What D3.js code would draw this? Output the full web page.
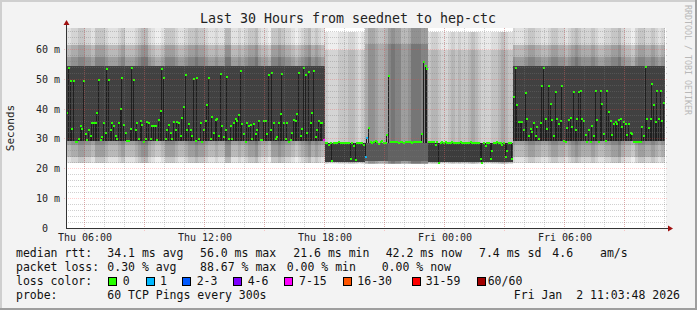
<!DOCTYPE html>
<html>
<head>
<meta charset="utf-8">
<script src="https://cdn.jsdelivr.net/npm/d3@7"></script>
<style>
    body { margin: 0; background: #f3f3f3; }
    svg { display: block; }
    text { font-family: "DejaVu Sans Mono", monospace; white-space: pre; }
</style>
</head>
<body>
<div id="chart"></div>
<script>
const WIDTH = 697, HEIGHT = 310;
const PLOT = {left: 66, right: 666, top: 28, bottom: 228};

// ---------------------------------- data ------------------------------------
const START = new Date(2026, 0, 1, 5, 3, 48);
const END = new Date(2026, 0, 2, 11, 3, 48);
const FIRST_STEP = new Date(2026, 0, 1, 5, 0, 0);
const STEP_MINUTES = 5;
const Y_MAX = 67.34;

// median rtt (ms), one value per 5 minute step, Thu 05:00 -> Fri 11:00
const medianMs = [
    33, 38.6, 53.8, 49.5, 33.5, 49.5, 29, 29, 30, 34.5,
    33.3, 49.5, 31.5, 29.5, 33, 31, 35.3, 35.3, 35.3, 38.6,
    49.8, 29.5, 30.5, 35.3, 32, 53.6, 49.8, 33, 35.3, 34.5,
    31, 30, 35.3, 40, 50.6, 34.7, 32, 29.3, 29.3, 33.3,
    53.8, 49.8, 33, 35.2, 30, 36, 34.7, 29, 30, 35.7,
    35.2, 30, 34.5, 34.5, 34.5, 29.5, 36.4, 39.3, 53.6, 50.4,
    30, 33, 34.7, 32, 30, 35.7, 33, 35.7, 35.3, 31,
    37, 40.7, 51.6, 32.9, 35, 33, 31, 50.2, 29.3, 50.4,
    30, 35.3, 29, 33, 36, 41.3, 50.4, 30, 37.4, 32,
    36.4, 36.7, 31, 51.8, 34.3, 30.5, 32.9, 51, 30, 34.3,
    30, 35.3, 36.7, 36, 38, 52.8, 35, 31.5, 29, 35.2,
    34.5, 34.7, 29.8, 35, 31.8, 33, 36, 29.5, 29.5, 36,
    36, 31.8, 51.6, 32.9, 52.2, 35.2, 29.8, 30.5, 35.3, 38.3,
    51.8, 35.3, 30, 35.2, 29, 29.5, 32, 36.4, 36, 38.5,
    52.2, 31, 33.5, 54, 51.6, 32, 52.4, 35.3, 38.8, 52.9,
    30.5, 33, 36, 35.5, 35.2, 29.6, 28.7, 28.7, 27.8, 28.7,
    22.6, 28.7, 28.6, 28.7, 28.8, 28.7, 28.7, 28.6, 28.7, 28.7,
    28.7, 23.3, 28.7, 27.7, 23.0, 28.7, 28.7, 28.6, 28.7, 27.8,
    24.0, 30.4, 33.6, 29.0, 28.6, 28.8, 29.2, 29.0, 28.4, 29.0,
    29.3, 28.7, 28.7, 31.3, 51.3, 28.9, 28.9, 29.0, 28.8, 28.9,
    28.7, 28.9, 28.8, 28.5, 28.9, 28.8, 28.9, 28.9, 28.7, 28.9,
    28.9, 29.0, 28.9, 29.1, 31.8, 56.0, 54.6, 53.4, 28.8, 28.8,
    28.9, 28.8, 27.8, 28.8, 22.0, 28.7, 28.8, 28.7, 28.8, 28.7,
    28.7, 28.7, 28.8, 28.7, 28.6, 28.7, 28.7, 28.8, 28.7, 28.7,
    28.6, 28.7, 28.7, 28.8, 28.7, 28.7, 28.6, 28.7, 28.7, 23.4,
    22.0, 28.7, 27.7, 28.7, 28.7, 23.4, 25.9, 28.7, 28.7, 28.8,
    28.7, 28.7, 27.8, 28.7, 24.0, 25.9, 28.7, 28.6, 23.4, 44.2,
    53.8, 41.5, 35.7, 35.7, 35.7, 33, 45.6, 36.8, 31, 33.5,
    32.4, 35.3, 31, 34, 30, 35.3, 47.9, 53.8, 36.8, 33.2,
    47.9, 41.6, 36.2, 31, 45.8, 36.6, 35, 36, 47.9, 29.3,
    28.8, 33.7, 36.4, 36.9, 34, 45.8, 32.9, 36.8, 45.8, 46.1,
    36.6, 36, 31.3, 29.1, 33, 28.8, 34.3, 31, 46.1, 36.4,
    29.1, 46.1, 41.8, 31.5, 29.3, 46.1, 39.1, 36, 31.3, 35,
    35.7, 35, 36.4, 36.7, 34, 35.7, 35, 31.3, 35, 32,
    31.5, 28.8, 29, 29, 29, 29, 34, 31, 54.2, 36.8,
    33.7, 36.6, 48.5, 41.5, 35.7, 46, 36.8, 46, 36, 42.2
];

// steps with packet loss (step index, lost pings of 60)
const lossStep = [155, 180, 181];
const lossCount = [9, 1, 1];

const lossLabels = ["0", "1", "2-3", "4-6", "7-15", "16-30", "31-59", "60/60"];
const lossLimits = [0, 1, 3, 6, 15, 30, 59, 60];
const lossColors = ["#26ff00", "#00b8ff", "#0059ff", "#7e00ff", "#ff00ff", "#ff5500", "#ff0000", "#a10000"];

// smoke: ping spread per period (first step, pivot ms, bands [low ms, high ms, density])
const regimeFirst = [0, 156, 180, 194, 218, 269];
const regimePivot = [29.3, 28.7, 28.7, 28.7, 28.7, 29.3];
const regimeBands = [
    [[21.8, 70, 0.15], [24, 61.6, 0.36], [28, 57.7, 0.5], [29.3, 54.6, 0.92]],
    [[21.5, 66, 0.08], [21.8, 60, 0.22], [22.2, 28.7, 0.95]],
    [[21.5, 70, 0.24], [22, 62, 0.36], [22.5, 28.7, 0.8]],
    [[21.5, 70, 0.36], [22, 62, 0.5], [22.5, 28.7, 0.75]],
    [[21.5, 66, 0.1], [21.8, 60, 0.24], [22.2, 28.7, 0.95]],
    [[21.8, 70, 0.15], [24, 61.6, 0.36], [28, 57.7, 0.5], [29.3, 54.6, 0.92]]
];

// relative darkness of the outer smoke, one value per 10 minutes
const smokeShade = [
    -1, -1, 0, 0, 1, 1, 0, 0, -1, 1,
    1, 1, 0, -1, -1, -1, 0, 1, -1, -1,
    -1, 0, 1, 2, 2, 0, -1, -2, -2, -1,
    1, 1, 1, 0, -1, -1, 0, 1, 1, 2,
    1, 1, 0, -1, -1, 0, -1, -1, 2, 2,
    -1, -1, 0, -1, 0, 1, 1, 2, 0, -1,
    -1, -2, 1, 1, 2, 1, 0, 0, -1, -2,
    -1, 0, 1, 2, 0, 1, 0, -1, 0, -1,
    -1, -1, 0, 0, 0, 1, 1, 0, -1, 0,
    0, 2, 2, 1, 0, 0, 1, 1, 2, 1,
    1, -1, -1, 0, 2, 2, 2, 1, 1, 0,
    1, 1, 0, -1, -1, 0, 1, 0, 1, 0,
    0, 1, 2, 1, 0, -1, -1, -1, 0, 0,
    1, 2, 1, 0, 0, -1, -1, -1, 0, 1,
    1, 0, 0, -1, -1, 0, 1, 1, 0, 0,
    -1, 0, 1, 2, 1, 0, 0, 0, 1, 0,
    -1, -1, 0, 0, 1, 1, 2, 0, -1, -1,
    -2, 0, 1, 1, 0, 0, 1, 0, -1, 0
];

const rttStats = ["34.1 ms avg", "56.0 ms max", "21.6 ms min", "42.2 ms now", "7.4 ms sd", "4.6", "am/s"];
const lossStats = ["0.30 % avg", "88.67 % max", "0.00 % min", "0.00 % now"];
const titleText = "Last 30 Hours from seednet to hep-ctc";
const probeText = "60 TCP Pings every 300s";
const stampText = "Fri Jan  2 11:03:48 2026";

// ---------------------------------- helpers ------------------------------------
const stepTime = (i) => new Date(FIRST_STEP.getTime() + i * STEP_MINUTES * 60000);
const x = d3.scaleTime().domain([START, END]).range([PLOT.left, PLOT.right]);
const y = d3.scaleLinear().domain([0, Y_MAX]).range([PLOT.bottom, PLOT.top]);
const px = (v) => Math.floor(v) + 0.5;
const grayLevel = d3.scaleLinear().domain([0, 1]).range([240, 50]);
const gray = (d) => {
    const g = Math.round(Math.max(0, Math.min(255, grayLevel(d))));
    return `rgb(${g},${g},${g})`;
};
const lossColor = (count) => lossColors[lossLimits.findIndex(l => count <= l)];
const regimeOf = (i) => d3.bisectRight(regimeFirst, i) - 1;
const stepX0 = (i) => Math.round(x(stepTime(i)));
const stepX1 = (i) => Math.round(x(stepTime(i + 1)));

const svg = d3.select("#chart")
    .append("svg")
    .attr("width", WIDTH)
    .attr("height", HEIGHT);

// frame
svg.append("rect").attr("width", WIDTH).attr("height", HEIGHT).attr("fill", "#f3f3f3");
svg.append("path").attr("d", `M0,${HEIGHT}V0H${WIDTH}`).attr("fill", "none")
    .attr("stroke", "#cfcfcf").attr("stroke-width", 4);
svg.append("path").attr("d", `M${WIDTH},0V${HEIGHT}H0`).attr("fill", "none")
    .attr("stroke", "#9e9e9e").attr("stroke-width", 4);

// plot canvas
svg.append("rect")
    .attr("x", PLOT.left).attr("y", PLOT.top)
    .attr("width", PLOT.right - PLOT.left).attr("height", PLOT.bottom - PLOT.top)
    .attr("fill", "#ffffff");

svg.append("clipPath").attr("id", "plot-clip")
    .append("rect")
    .attr("x", PLOT.left).attr("y", PLOT.top)
    .attr("width", PLOT.right - PLOT.left).attr("height", PLOT.bottom - PLOT.top);

const plot = svg.append("g").attr("clip-path", "url(#plot-clip)").attr("shape-rendering", "crispEdges");

// ---------------------------------- smoke ------------------------------------
const smokeRects = [];
medianMs.forEach((_, i) => {
    const bands = regimeBands[regimeOf(i)];
    const shade = smokeShade[Math.floor(i / 2)];
    bands.forEach(([lo, hi, density], b) => {
        const inner = b === bands.length - 1;
        smokeRects.push({i, lo, hi, density: inner ? density : density + shade * 0.07});
    });
});

plot.append("g")
    .selectAll("rect")
    .data(smokeRects)
    .enter()
    .append("rect")
    .attr("x", d => stepX0(d.i))
    .attr("width", d => stepX1(d.i) - stepX0(d.i))
    .attr("y", d => Math.round(y(d.hi)))
    .attr("height", d => Math.round(y(d.lo)) - Math.round(y(d.hi)))
    .attr("fill", d => gray(d.density));

// darkest smoke between the pivot and the median
plot.append("g")
    .selectAll("rect")
    .data(medianMs.map((m, i) => ({i, m, p: regimePivot[regimeOf(i)]})).filter(d => Math.abs(d.m - d.p) > 0.4))
    .enter()
    .append("rect")
    .attr("x", d => stepX0(d.i))
    .attr("width", 1)
    .attr("y", d => Math.round(y(Math.max(d.m, d.p))))
    .attr("height", d => Math.round(y(Math.min(d.m, d.p))) - Math.round(y(Math.max(d.m, d.p))))
    .attr("fill", gray(1.1));

// ---------------------------------- grid ------------------------------------
const grid = svg.append("g").attr("shape-rendering", "crispEdges");
const minorX = d3.timeHour.every(1).range(START, END);
const majorX = d3.timeHour.every(3).range(START, END);
const labelX = d3.timeHour.every(6).range(START, END);
const minorY = d3.range(2, Y_MAX, 2).filter(v => v % 10 !== 0);
const majorY = d3.range(10, Y_MAX, 10);
const MINOR = "rgba(120,120,120,0.35)";
const MAJOR = "rgba(255,60,60,0.26)";

grid.selectAll(".minor-x").data(minorX).enter().append("line")
    .attr("x1", d => px(x(d))).attr("x2", d => px(x(d)))
    .attr("y1", PLOT.top).attr("y2", PLOT.bottom)
    .attr("stroke", MINOR).attr("stroke-dasharray", "1,1");
grid.selectAll(".minor-y").data(minorY).enter().append("line")
    .attr("x1", PLOT.left).attr("x2", PLOT.right + 2)
    .attr("y1", d => px(y(d))).attr("y2", d => px(y(d)))
    .attr("stroke", MINOR).attr("stroke-dasharray", "1,1");
grid.selectAll(".major-x").data(majorX).enter().append("line")
    .attr("x1", d => px(x(d))).attr("x2", d => px(x(d)))
    .attr("y1", PLOT.top).attr("y2", PLOT.bottom + 3)
    .attr("stroke", MAJOR).attr("stroke-dasharray", "1,1");
grid.selectAll(".major-y").data(majorY).enter().append("line")
    .attr("x1", PLOT.left - 2).attr("x2", PLOT.right + 2)
    .attr("y1", d => px(y(d))).attr("y2", d => px(y(d)))
    .attr("stroke", MAJOR).attr("stroke-dasharray", "1,1");

// ---------------------------------- median ------------------------------------
plot.append("g")
    .selectAll("rect")
    .data(medianMs.map((m, i) => {
        const k = lossStep.indexOf(i);
        return {i, m, loss: k < 0 ? 0 : lossCount[k]};
    }))
    .enter()
    .append("rect")
    .attr("x", d => stepX0(d.i))
    .attr("width", d => Math.max(2, stepX1(d.i) - stepX0(d.i)))
    .attr("y", d => Math.round(y(d.m)) - 1)
    .attr("height", 2)
    .attr("fill", d => lossColor(d.loss));

// ---------------------------------- axes ------------------------------------
const axes = svg.append("g").attr("shape-rendering", "crispEdges");
axes.append("line")
    .attr("x1", px(PLOT.left)).attr("x2", px(PLOT.left))
    .attr("y1", PLOT.bottom + 1).attr("y2", PLOT.top - 5)
    .attr("stroke", "#333");
axes.append("line")
    .attr("x1", PLOT.left).attr("x2", PLOT.right + 5)
    .attr("y1", px(PLOT.bottom)).attr("y2", px(PLOT.bottom))
    .attr("stroke", "#333");
svg.append("path")
    .attr("d", `M${PLOT.left - 2.5},${PLOT.top - 3}L${PLOT.left + 0.5},${PLOT.top - 8}L${PLOT.left + 3.5},${PLOT.top - 3}Z`)
    .attr("fill", "#a01010");
svg.append("path")
    .attr("d", `M${PLOT.right + 2},${PLOT.bottom - 2.5}L${PLOT.right + 7},${PLOT.bottom + 0.5}L${PLOT.right + 2},${PLOT.bottom + 3.5}Z`)
    .attr("fill", "#a01010");

svg.append("g")
    .selectAll("text")
    .data([0].concat(majorY))
    .enter()
    .append("text")
    .attr("x", 60)
    .attr("y", d => y(d) + 3.5)
    .attr("text-anchor", "end")
    .style("font-size", "10px")
    .attr("fill", "#222")
    .text(d => d === 0 ? "0  " : `${d} m`);

svg.append("g")
    .selectAll("text")
    .data(labelX)
    .enter()
    .append("text")
    .attr("x", d => px(x(d)) + 0.5)
    .attr("y", 241)
    .attr("text-anchor", "middle")
    .style("font-size", "10px")
    .attr("fill", "#222")
    .text(d3.timeFormat("%a %H:%M"));

svg.append("text")
    .attr("transform", `translate(14,${(PLOT.top + PLOT.bottom) / 2}) rotate(-90)`)
    .attr("text-anchor", "middle")
    .style("font-size", "11px")
    .attr("fill", "#222")
    .text("Seconds");

svg.append("text")
    .attr("x", 348).attr("y", 23)
    .attr("text-anchor", "middle")
    .style("font-size", "13.3px")
    .attr("fill", "#222")
    .text(titleText);

svg.append("text")
    .attr("transform", "translate(685,5) rotate(90)")
    .style("font-size", "8.3px")
    .attr("fill", "#b8b8b8")
    .text("RRDTOOL / TOBI OETIKER");

// ---------------------------------- legend ------------------------------------
const legend = svg.append("g").style("font-size", "11.5px").attr("fill", "#111");
const legendRow = (text, xPos, yPos) => legend.append("text").attr("x", xPos).attr("y", yPos).text(text);

legendRow("median rtt:", 16, 257);
[107.3, 200, 293.3, 385.7, 479, 552.3, 600].forEach((xPos, i) => legendRow(rttStats[i], xPos, 257));

legendRow("packet loss:", 16, 271);
[107.3, 200, 286.7, 381.7].forEach((xPos, i) => legendRow(lossStats[i], xPos, 271));

legendRow("loss color:", 16, 285);
const boxX = [108.3, 145.7, 182.3, 233.3, 284.3, 342.7, 411.7, 476.7];
const labelXPos = [122.7, 160, 196.7, 247.7, 299, 357.3, 425.7, 487.7];
lossLabels.forEach((label, i) => {
    legend.append("rect")
        .attr("x", Math.round(boxX[i]) + 0.5).attr("y", 277.5)
        .attr("width", 8).attr("height", 8)
        .attr("fill", lossColors[i])
        .attr("stroke", "#000");
    legendRow(label, labelXPos[i], 285);
});

legendRow("probe:", 16, 299);
legendRow(probeText, 107.3, 299);
legend.append("text").attr("x", 680).attr("y", 299).attr("text-anchor", "end").text(stampText);
</script>
</body>
</html>
